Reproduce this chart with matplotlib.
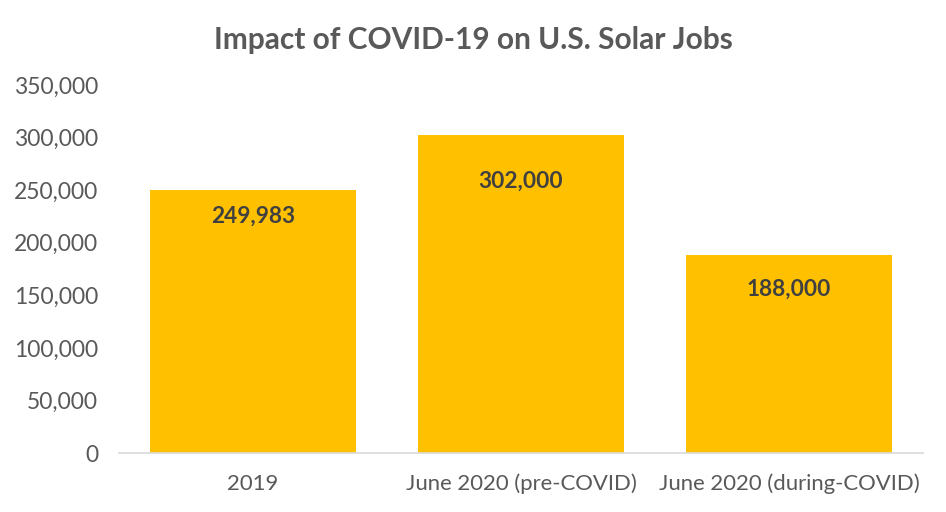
import matplotlib
matplotlib.use("Agg")
import matplotlib.pyplot as plt
from matplotlib.ticker import FuncFormatter

categories = ["2019", "June 2020 (pre-COVID)", "June 2020 (during-COVID)"]
jobs = [249983, 302000, 188000]
labels = ["249,983", "302,000", "188,000"]
yticks = [0, 50000, 100000, 150000, 200000, 250000, 300000, 350000]

# label offset below bar top (data units), styling only
label_drop = [24500, 43300, 32000]

plt.rcParams['font.family'] = ['Lato', 'DejaVu Sans']
gray = "#595959"

fig = plt.figure(figsize=(9.46, 5.12), dpi=100)
ax = fig.add_axes([0.1258, 0.1152, 0.8499, 0.7188])
x = range(len(categories))
ax.bar(x, jobs, width=0.77, color="#FFC000", zorder=2)
for i, (v, l) in enumerate(zip(jobs, labels)):
    ax.text(i, v - label_drop[i], l, ha="center", va="center",
            fontsize=16.3, fontweight="bold", color="#404040")

ax.set_xlim(-0.5, 2.5)
ax.set_ylim(0, 350000)
ax.set_yticks(yticks)
ax.yaxis.set_major_formatter(FuncFormatter(lambda v, p: f"{int(v):,}"))
ax.set_xticks(list(x))
ax.set_xticklabels(categories)
for s in ["top", "right", "left"]:
    ax.spines[s].set_visible(False)
ax.spines["bottom"].set_color("#D9D9D9")
ax.spines["bottom"].set_linewidth(1.2)
ax.tick_params(axis="y", length=0, pad=15, labelsize=16.5, labelcolor=gray)
ax.tick_params(axis="x", length=0, pad=15, labelsize=15.9, labelcolor=gray)
fig.text(0.5, 0.922, "Impact of COVID-19 on U.S. Solar Jobs", ha="center",
         va="center", fontsize=21.5, fontweight="bold", color=gray)
fig.savefig("out.png", dpi=100)
